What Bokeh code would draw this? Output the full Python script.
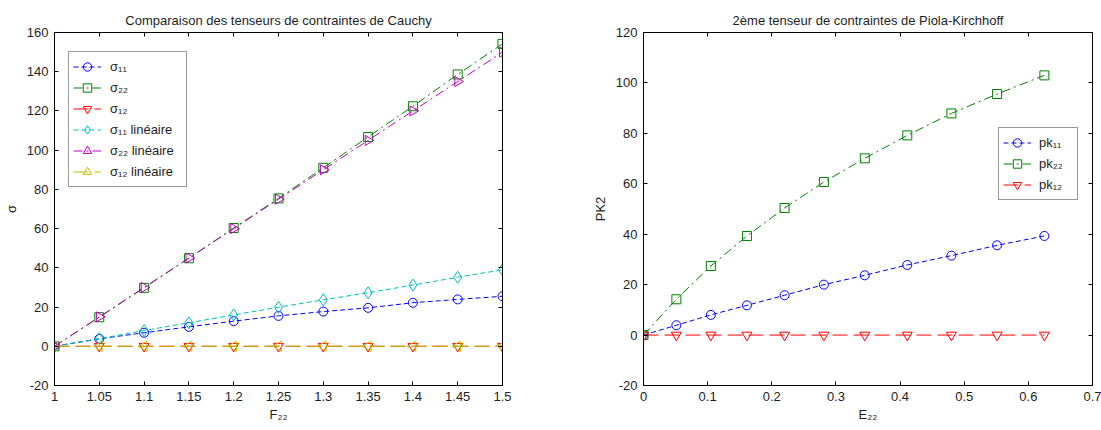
import math
from bokeh.plotting import figure
from bokeh.models import (Range1d, FixedTicker, LinearAxis, Legend,
                          LegendItem, CustomJSTickFormatter)
from bokeh.layouts import row
from bokeh.embed import file_html
from bokeh.resources import INLINE

# ---------------- data ----------------
F22 = [1.0, 1.05, 1.1, 1.15, 1.2, 1.25, 1.3, 1.35, 1.4, 1.45, 1.5]
sigma11 = [0, 3.8, 6.9, 9.9, 12.8, 15.5, 17.7, 19.6, 22.2, 23.9, 25.5]
sigma22 = [0, 14.8, 29.8, 44.9, 60.3, 75.4, 91.0, 106.7, 122.4, 138.6, 154.2]
sigma12 = [0, 0, 0, 0, 0, 0, 0, 0, 0, 0, 0]
sigma11_lin = [0, 3.9, 8.0, 12.0, 16.0, 19.9, 23.7, 27.3, 31.2, 35.2, 39.0]
sigma22_lin = [0, 15, 30, 45, 60, 75, 90, 105, 120, 135, 150]
sigma12_lin = [0, 0, 0, 0, 0, 0, 0, 0, 0, 0, 0]

E22 = [0, 0.05125, 0.105, 0.16125, 0.22, 0.28125, 0.345, 0.41125, 0.48, 0.55125, 0.625]
pk11 = [0, 3.9, 8.0, 11.8, 15.8, 20.0, 23.7, 27.8, 31.5, 35.6, 39.3]
pk22 = [0, 14.2, 27.4, 39.3, 50.4, 60.7, 70.1, 79.2, 87.9, 95.6, 103.0]
pk12 = [0, 0, 0, 0, 0, 0, 0, 0, 0, 0, 0]

left_legend = ["σ₁₁", "σ₂₂", "σ₁₂", "σ₁₁ linéaire", "σ₂₂ linéaire", "σ₁₂ linéaire"]
right_legend = ["pk₁₁", "pk₂₂", "pk₁₂"]

left_xticks = [1.0, 1.05, 1.1, 1.15, 1.2, 1.25, 1.3, 1.35, 1.4, 1.45, 1.5]
left_xlabels = ["1", "1.05", "1.1", "1.15", "1.2", "1.25", "1.3", "1.35", "1.4", "1.45", "1.5"]
left_yticks = [-20, 0, 20, 40, 60, 80, 100, 120, 140, 160]
left_ylabels = ["-20", "0", "20", "40", "60", "80", "100", "120", "140", "160"]
right_xticks = [0, 0.1, 0.2, 0.3, 0.4, 0.5, 0.6, 0.7]
right_xlabels = ["0", "0.1", "0.2", "0.3", "0.4", "0.5", "0.6", "0.7"]
right_yticks = [-20, 0, 20, 40, 60, 80, 100, 120]
right_ylabels = ["-20", "0", "20", "40", "60", "80", "100", "120"]

left_title = "Comparaison des tenseurs de contraintes de Cauchy"
right_title = "2ème tenseur de contraintes de Piola-Kirchhoff"
left_xlabel, left_ylabel = "F₂₂", "σ"
right_xlabel, right_ylabel = "E₂₂", "PK2"

# ---------------- styling ----------------
FONT = "Liberation Sans"
TXT = "#1e1e1e"
BLUE, GREEN, RED = "#0000ff", "#008000", "#ff0000"
CYAN, MAGENTA, OLIVE = "#00bfbf", "#bf00bf", "#bfbf00"

H = 430
TOP, BOTTOM = 32, 45
FRAME_H = H - TOP - BOTTOM


def make_fig(width, bl, br, xr, yr, xt, xl, yt, yl, title, xlab, ylab):
    p = figure(width=width, height=H, output_backend="svg", toolbar_location=None,
               x_range=Range1d(*xr), y_range=Range1d(*yr),
               min_border_left=bl, min_border_right=br,
               min_border_top=TOP, min_border_bottom=BOTTOM)
    p.background_fill_color = "white"
    p.border_fill_color = "white"
    p.outline_line_color = "black"
    p.xgrid.visible = False
    p.ygrid.visible = False
    p.title.text = title
    p.title.align = "center"
    p.title.text_font = FONT
    p.title.text_font_size = "13px"
    p.title.text_font_style = "normal"
    p.title.text_color = TXT
    p.title.standoff = 9
    p.title.offset = 0
    p.xaxis.ticker = FixedTicker(ticks=xt)
    p.xaxis.major_label_overrides = dict(zip(xt, xl))
    p.yaxis.ticker = FixedTicker(ticks=yt)
    p.yaxis.major_label_overrides = dict(zip(yt, yl))
    p.xaxis.major_label_standoff = 6
    p.yaxis.major_label_standoff = 6
    p.xaxis.axis_label = xlab
    p.yaxis.axis_label = ylab
    p.xaxis.axis_label_standoff = 3
    p.yaxis.axis_label_standoff = 5
    blank = CustomJSTickFormatter(code="return ''")
    top = LinearAxis(ticker=FixedTicker(ticks=xt), formatter=blank,
                     major_label_standoff=0)
    right = LinearAxis(ticker=FixedTicker(ticks=yt), formatter=blank,
                       major_label_standoff=0)
    p.add_layout(top, "above")
    p.add_layout(right, "right")
    for ax in p.axis:
        ax.major_tick_in = 4
        ax.major_tick_out = 0
        ax.minor_tick_line_color = None
        ax.axis_line_color = "black"
        ax.major_tick_line_color = "black"
        ax.major_label_text_font = FONT
        ax.major_label_text_font_size = "13px"
        ax.major_label_text_color = TXT
        ax.axis_label_text_font = FONT
        ax.axis_label_text_font_size = "13px"
        ax.axis_label_text_font_style = "normal"
        ax.axis_label_text_color = TXT
    return p


def series(p, x, y, color, dash, marker, size, angle=0.0):
    ln = p.line(x, y, line_color=color, line_width=1, line_dash=dash)
    sc = p.scatter(x, y, marker=marker, size=size, angle=angle,
                   line_color=color, line_width=1, fill_color=None)
    return [ln, sc]


PAD, ROW, GW = 4, 21, 28


def add_legend(p, labels, groups, box_left, box_top, standoff, lw):
    """box_left / box_top measured from the frame's left / top edge (px)."""
    n = len(labels)
    box_h = 2 * PAD + n * ROW
    items = [LegendItem(label=t, renderers=r) for t, r in zip(labels, groups)]
    leg = Legend(items=items, location=(box_left, FRAME_H - box_top - box_h),
                 padding=PAD, spacing=0, margin=0, glyph_width=GW, glyph_height=ROW,
                 label_height=ROW, label_width=lw, label_standoff=standoff,
                 label_text_font=FONT, label_text_font_size="13px",
                 label_text_color=TXT, border_line_color="#333333",
                 border_line_width=1, background_fill_color="white",
                 background_fill_alpha=1.0)
    p.add_layout(leg)


# ---------------- left: Cauchy ----------------
p1 = make_fig(560, 53, 58, (1, 1.5), (-20, 160),
              left_xticks, left_xlabels, left_yticks, left_ylabels,
              left_title, left_xlabel, left_ylabel)
r11 = series(p1, F22, sigma11, BLUE, "5 3", "circle", 9)
r22 = series(p1, F22, sigma22, GREEN, "9 4 2 4", "square", 9)
r12 = series(p1, F22, sigma12, RED, "15 6", "inverted_triangle", 10)
r11l = series(p1, F22, sigma11_lin, CYAN, "5 3", "diamond", 12)
r22l = series(p1, F22, sigma22_lin, MAGENTA, "9 4 2 4", "triangle", 10, -math.pi / 2)
r12l = series(p1, F22, sigma12_lin, OLIVE, "15 6", "triangle", 10, math.pi / 2)
add_legend(p1, left_legend, [r11, r22, r12, r11l, r22l, r12l], 14, 21, 9, 72)

# ---------------- right: Piola-Kirchhoff ----------------
p2 = make_fig(541, 83, 9, (0, 0.7), (-20, 120),
              right_xticks, right_xlabels, right_yticks, right_ylabels,
              right_title, right_xlabel, right_ylabel)
q11 = series(p2, E22, pk11, BLUE, "5 3", "circle", 9)
q22 = series(p2, E22, pk22, GREEN, "9 4 2 4", "square", 9)
q12 = series(p2, E22, pk12, RED, "15 6", "inverted_triangle", 10)
add_legend(p2, right_legend, [q11, q22, q12], 355, 97, 8, 34)

layout = row(p1, p2)
open("out.html", "w").write(file_html(layout, INLINE))
